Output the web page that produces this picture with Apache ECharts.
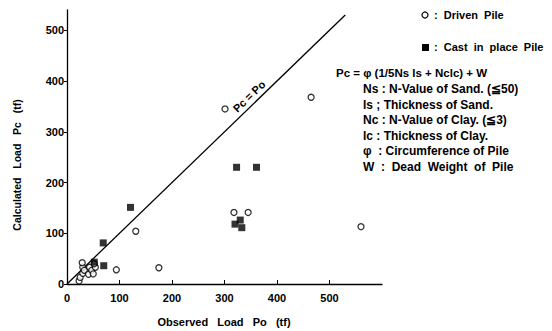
<!DOCTYPE html>
<html><head><meta charset="utf-8">
<script src="https://cdn.jsdelivr.net/npm/echarts@6/dist/echarts.min.js"></script>
<style>html,body{margin:0;padding:0;background:#fff}#c{width:552px;height:331px}</style>
</head><body><div id="c"></div>
<script>
const xTicks = [0, 100, 200, 300, 400, 500];
const yTicks = [0, 100, 200, 300, 400, 500];
const drivenPile = [[23,6],[25,13],[30,21],[30,33],[29,42],[33,27],[41,19],[43,33],[47,27],[50,20],[54,33],[52,40],[94,28],[131,104],[175,32],[301,345],[318,141],[345,141],[465,368],[560,113]];
const castPile = [[52,43],[69,81],[70,36],[121,151],[320,118],[323,230],[330,126],[333,111],[361,230]];
const equalityLine = [[0,0],[530,530]];
const lineLabel = 'Pc = Po';
const legendTexts = [':  Driven  Pile', ':  Cast  in  place  Pile'];
const formula = 'Pc = φ (1/5Ns ls + Nclc) + W';
const notes = ['Ns : N-Value of Sand. (≦50)', 'ls ; Thickness of Sand.', 'Nc : N-Value of Clay. (≦3)', 'lc : Thickness of Clay.', 'φ  : Circumference of Pile', 'W  :  Dead  Weight  of  Pile'];
const xTitle = 'Observed   Load   Po   (tf)';
const yTitle = 'Calculated   Load   Pc   (tf)';

const FONT = 'Liberation Sans';
const chart = echarts.init(document.getElementById('c'), null, {renderer: 'svg'});
const axisCommon = {
  axisLine: {lineStyle: {color: '#000', width: 1.3}},
  splitLine: {show: false},
  axisLabel: {color: '#000', fontFamily: FONT, fontWeight: 'bold', fontSize: 11},
};
chart.setOption({
  animation: false,
  backgroundColor: '#fff',
  grid: {left: 67, top: 10, right: 170, bottom: 47},
  xAxis: Object.assign({}, axisCommon, {
    type: 'value', min: 0, max: 600,
    axisTick: {show: true, inside: true, length: 4, customValues: xTicks, lineStyle: {color: '#000'}},
    axisLabel: Object.assign({}, axisCommon.axisLabel, {customValues: xTicks, margin: 8}),
  }),
  yAxis: Object.assign({}, axisCommon, {
    type: 'value', min: 0, max: 540,
    axisTick: {show: true, inside: false, length: 3, customValues: yTicks, lineStyle: {color: '#000'}},
    axisLabel: Object.assign({}, axisCommon.axisLabel, {customValues: yTicks, margin: 3}),
  }),
  series: [
    {type: 'line', data: equalityLine, symbol: 'none', lineStyle: {color: '#000', width: 1.3}, z: 1},
    {type: 'scatter', data: drivenPile, symbol: 'circle', symbolSize: 6,
     itemStyle: {color: '#fff', borderColor: '#000', borderWidth: 1.3}, z: 3},
    {type: 'scatter', data: castPile, symbol: 'rect', symbolSize: 7,
     itemStyle: {color: '#000'}, z: 4},
  ],
});

// derived text placements (via library scales)
const p0 = chart.convertToPixel({gridIndex: 0}, equalityLine[0]);
const p1 = chart.convertToPixel({gridIndex: 0}, equalityLine[1]);
const ang = Math.atan2(p0[1] - p1[1], p1[0] - p0[0]);
const pm = chart.convertToPixel({gridIndex: 0}, [358, 358]);
const txt = {fill: '#000', fontFamily: FONT, fontWeight: 'bold'};
const g = [];
g.push({type: 'text', x: pm[0] - 3 * Math.sin(ang), y: pm[1] - 3 * Math.cos(ang), rotation: ang,
  style: Object.assign({text: lineLabel, fontSize: 11, align: 'center', verticalAlign: 'bottom'}, txt)});
g.push({type: 'text', x: 224, y: 322, style: Object.assign({text: xTitle, fontSize: 11, align: 'center', verticalAlign: 'middle'}, txt)});
g.push({type: 'text', x: 17, y: 165, rotation: Math.PI / 2, style: Object.assign({text: yTitle, fontSize: 10.5, align: 'center', verticalAlign: 'middle'}, txt)});
// legend
g.push({type: 'circle', shape: {cx: 425, cy: 15, r: 3}, style: {fill: '#fff', stroke: '#000', lineWidth: 1.2}});
g.push({type: 'text', x: 434, y: 15, style: Object.assign({text: legendTexts[0], fontSize: 11, align: 'left', verticalAlign: 'middle'}, txt)});
g.push({type: 'rect', shape: {x: 422, y: 44, width: 7, height: 7}, style: {fill: '#000'}});
g.push({type: 'text', x: 434, y: 47, style: Object.assign({text: legendTexts[1], fontSize: 11, align: 'left', verticalAlign: 'middle'}, txt)});
g.push({type: 'text', x: 336, y: 73, style: Object.assign({text: formula, fontSize: 11.5, align: 'left', verticalAlign: 'middle'}, txt)});
notes.forEach((t, i) => {
  g.push({type: 'text', x: 363, y: 89 + i * 15.6, style: Object.assign({text: t, fontSize: 12, align: 'left', verticalAlign: 'middle'}, txt)});
});
chart.setOption({graphic: g});
</script>
</body></html>
